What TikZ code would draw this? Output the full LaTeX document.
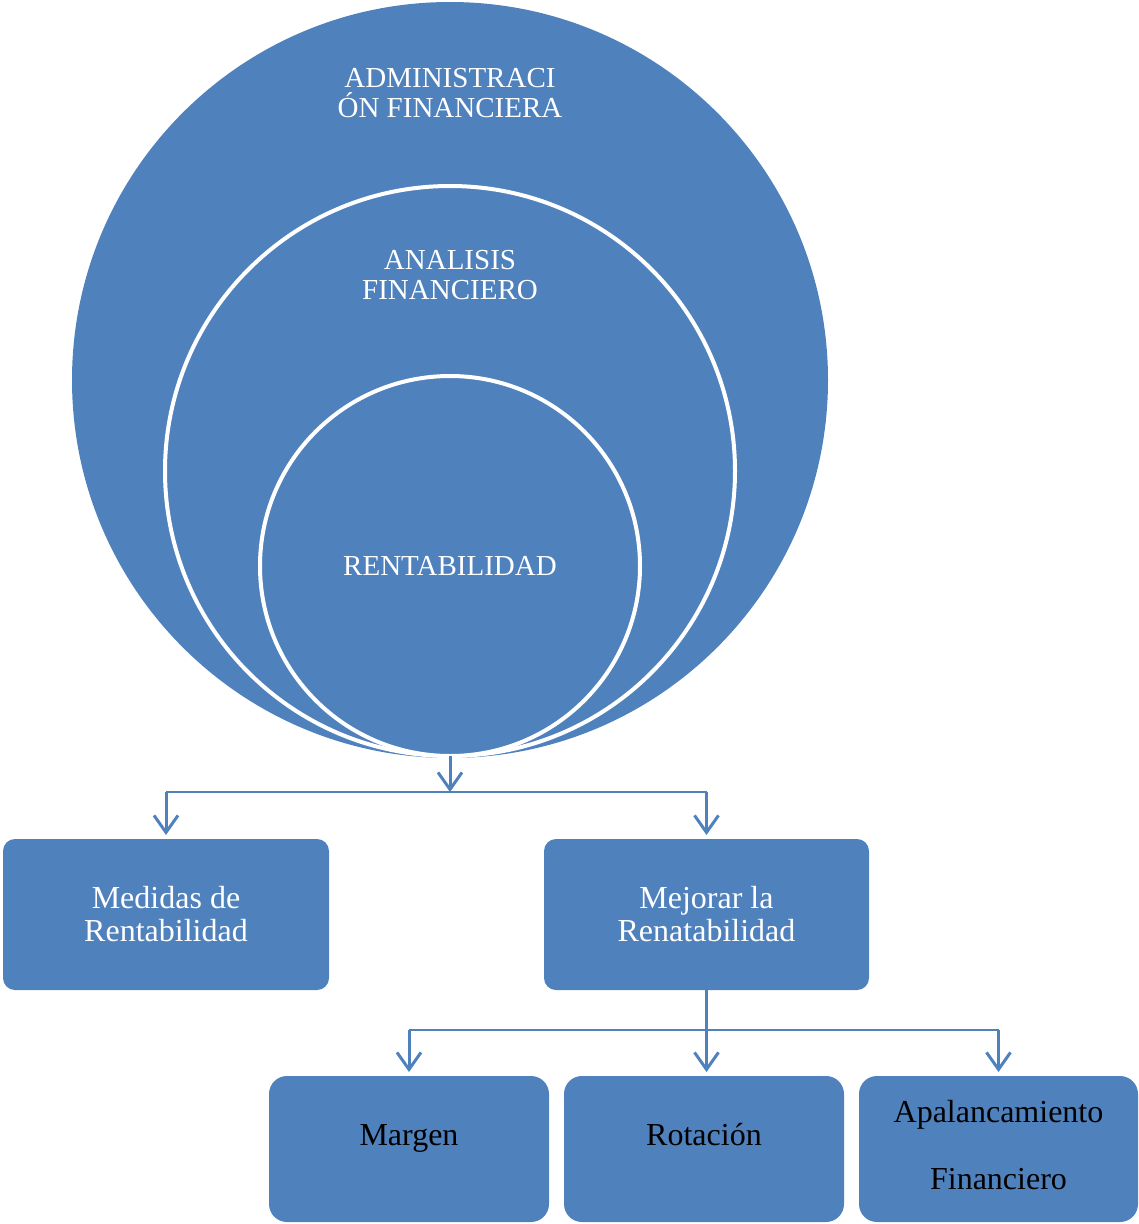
\documentclass[tikz,border=0pt]{standalone}
\usepackage{fontspec}
\setmainfont{Liberation Serif}
\usetikzlibrary{arrows.meta}
\definecolor{accent}{HTML}{4F81BD}
\begin{document}
\begin{tikzpicture}[x=1pt,y=-1pt,
  ring/.style={circle, fill=accent, inner sep=0pt, outer sep=0pt},
  whitering/.style={ring, draw=white, line width=4pt},
  box/.style={rounded corners=12pt, fill=accent, inner sep=0pt, outer sep=0pt},
  lowbox/.style={box, rounded corners=18pt},
  ctext/.style={text=white, align=center, inner sep=0pt, font=\fontsize{29}{30}\selectfont},
  wtext/.style={text=white, align=center, inner sep=0pt, font=\fontsize{32}{33}\selectfont},
  btext/.style={text=black, anchor=base, inner sep=0pt, font=\fontsize{32}{33}\selectfont},
  stem/.style={draw=accent, line width=3pt, -{Straight Barb[length=17pt,width=24pt]}},
  rail/.style={draw=accent, line width=2pt},
]
\useasboundingbox (0,0) rectangle (1139,1224);

% nested circles
\node[ring, minimum size=756pt] (admin) at (450,380) {};
\node[whitering, minimum size=570pt] (analisis) at (450,471) {};
\node[whitering, minimum size=380pt] (rent) at (450,566) {};

\node[ctext] (adminT) at (450,93) {ADMINISTRACI\\ÓN FINANCIERA};
\node[ctext] (analisisT) at (450,275) {ANALISIS\\FINANCIERO};
\node[ctext] (rentT) at (450,566) {RENTABILIDAD};

% first level boxes
\node[box, minimum width=326pt, minimum height=151pt] (medidas) at (166,914.5) {};
\node[box, minimum width=325pt, minimum height=151pt] (mejorar) at (706.5,914.5) {};
\node[wtext] (medidasT) at (166,914.5) {Medidas de\\Rentabilidad};
\node[wtext] (mejorarT) at (706.5,914.5) {Mejorar la\\Renatabilidad};

% second level boxes
\node[lowbox, minimum width=280pt, minimum height=146pt] (margen) at (409,1149) {};
\node[lowbox, minimum width=280pt, minimum height=146pt] (rotacion) at (704,1149) {};
\node[lowbox, minimum width=279pt, minimum height=146pt] (apal) at (998.5,1149) {};
\node[btext] (margenT) at (409,1145) {Margen};
\node[btext] (rotacionT) at (704,1145) {Rotación};
\node[btext] (apalT) at (998.5,1122) {Apalancamiento};
\node[btext] (finT) at (998.5,1189) {Financiero};

% connectors
\coordinate (split1) at (450,792);
\coordinate (split2) at (706,1030);
\draw[stem] (rent.south) -- (split1);
\draw[rail] (medidas.north |- split1) -- (mejorar.north |- split1);
\draw[stem] (medidas.north |- split1) -- ([yshift=4pt]medidas.north);
\draw[stem] (mejorar.north |- split1) -- ([yshift=4pt]mejorar.north);

\draw[rail] (margen.north |- split2) -- (apal.north |- split2);
\draw[stem] (mejorar.south) -- ([yshift=4pt]mejorar.south |- rotacion.north);
\draw[stem] (margen.north |- split2) -- ([yshift=4pt]margen.north);
\draw[stem] (apal.north |- split2) -- ([yshift=4pt]apal.north);
\end{tikzpicture}
\end{document}
